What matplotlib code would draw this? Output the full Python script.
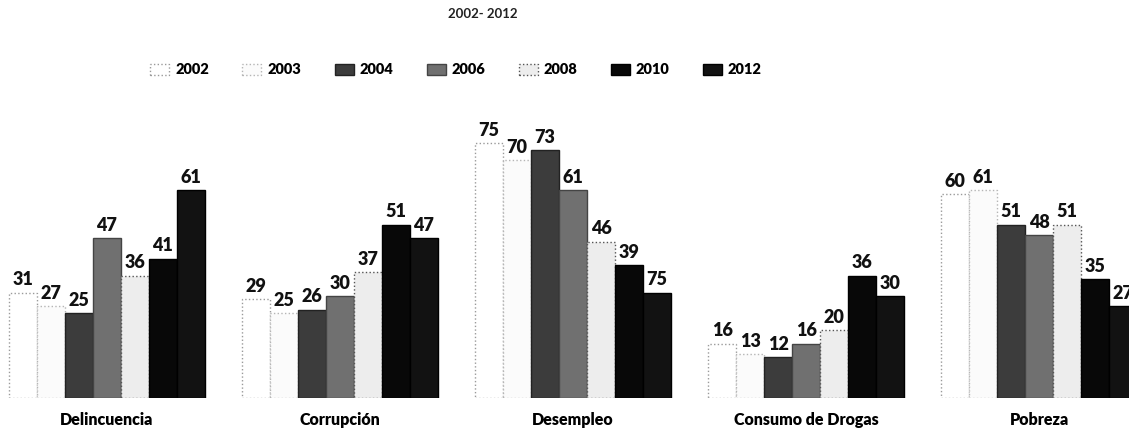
import matplotlib
matplotlib.use("Agg")
import matplotlib.pyplot as plt
from matplotlib.patches import Patch
import numpy as np

plt.rcParams['font.family'] = ['Lato', 'DejaVu Sans']

categorias = ["Delincuencia", "Corrupción", "Desempleo", "Consumo de Drogas", "Pobreza"]
anios = ["2002", "2003", "2004", "2006", "2008", "2010", "2012"]

# bar heights per year (one value per category)
v2002 = [31, 29, 75, 16, 60]
v2003 = [27, 25, 70, 13, 61]
v2004 = [25, 26, 73, 12, 51]
v2006 = [47, 30, 61, 16, 48]
v2008 = [36, 37, 46, 20, 51]
v2010 = [41, 51, 39, 36, 35]
v2012 = [61, 47, 31, 30, 27]
# printed labels (the reference prints "75" on the Desempleo 2012 bar)
e2012 = ["61", "47", "75", "30", "27"]

series = [v2002, v2003, v2004, v2006, v2008, v2010, v2012]
etiquetas = [[str(v) for v in s] for s in series[:-1]] + [e2012]

colores = ["#ffffff", "#fbfbfb", "#3c3c3c", "#707070", "#ededed", "#080808", "#121212"]
bordes = ["#9a9a9a", "#b5b5b5", "#222222", "#444444", "#555555", "#000000", "#000000"]
estilos = [":", ":", "-", "-", ":", "-", "-"]

fig = plt.figure(figsize=(11.29, 4.33), dpi=100)
ax = fig.add_axes([0, 35 / 433, 1, 298 / 433])

x = np.arange(len(categorias))
w = 0.12
n = len(series)
for i, (vals, labs) in enumerate(zip(series, etiquetas)):
    pos = x + (i - (n - 1) / 2) * w
    bars = ax.bar(pos, vals, width=w, color=colores[i], edgecolor=bordes[i],
                  linewidth=1.0, linestyle=estilos[i])
    for b, lab in zip(bars, labs):
        ax.text(b.get_x() + b.get_width() / 2, b.get_height() + 1.2, lab,
                ha="center", va="bottom", fontsize=13, fontweight="heavy",
                color="#111111")

ax.set_xlim(-0.459, 4.386)
ax.set_ylim(0, 87.6)
ax.set_xticks(x)
ax.set_xticklabels(categorias, fontsize=11.5, fontweight="heavy")
ax.tick_params(axis="x", length=0, pad=10)
ax.set_yticks([])
for s in ax.spines.values():
    s.set_visible(False)

handles = [Patch(facecolor=colores[i], edgecolor=bordes[i], linestyle=estilos[i],
                 label=anios[i]) for i in range(n)]
fig.legend(handles=handles, loc="center", bbox_to_anchor=(456 / 1129, 1 - 70 / 433),
           ncol=7, frameon=False, columnspacing=2.3,
           handlelength=1.3, handletextpad=0.4,
           prop={"weight": "heavy", "size": 10.5})

fig.text(483 / 1129, 1 - 14 / 433, "2002- 2012", ha="center", va="center",
         fontsize=9.5, fontweight="bold", color="#222222")

fig.savefig("out.png", dpi=100, facecolor="white")
